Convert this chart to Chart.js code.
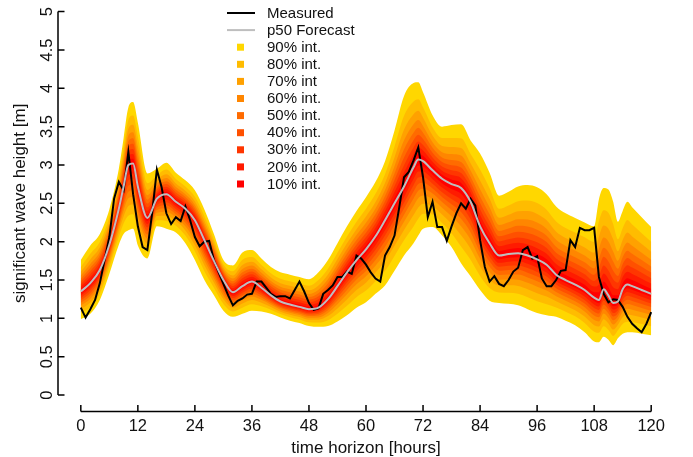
<!DOCTYPE html>
<html>
<head>
<meta charset="utf-8">
<script src="https://cdn.jsdelivr.net/npm/chart.js@4.4.1/dist/chart.umd.min.js"></script>
<style>
  html, body { margin: 0; padding: 0; background: #fff; }
  #wrap { width: 693px; height: 457px; }
</style>
</head>
<body>
<div id="wrap"><canvas id="waveChart" width="693" height="457"></canvas></div>
<script>
const xTicks = [0, 12, 24, 36, 48, 60, 72, 84, 96, 108, 120];
const yTicks = [0, 0.5, 1, 1.5, 2, 2.5, 3, 3.5, 4, 4.5, 5];

// measured wave height, one value per hour from 0 to 120
const measured = [
  1.14, 1.01, 1.12, 1.24, 1.46, 1.76, 2.06, 2.56, 2.78, 2.67,
  3.17, 2.62, 2.2, 1.93, 1.89, 2.37, 2.94, 2.71, 2.37, 2.23,
  2.32, 2.27, 2.46, 2.28, 2.06, 1.94, 2.0, 2.01, 1.76, 1.6,
  1.45, 1.3, 1.17, 1.23, 1.26, 1.31, 1.32, 1.48, 1.48, 1.4,
  1.32, 1.28, 1.29, 1.29, 1.26, 1.37, 1.48, 1.35, 1.2, 1.11,
  1.13, 1.32, 1.37, 1.43, 1.54, 1.54, 1.61, 1.58, 1.82, 1.78,
  1.7, 1.6, 1.52, 1.48, 1.82, 1.93, 2.08, 2.45, 2.84, 2.91,
  3.06, 3.23, 2.84, 2.32, 2.52, 2.19, 2.19, 2.01, 2.2, 2.37,
  2.5, 2.43, 2.56, 2.47, 2.02, 1.67, 1.48, 1.55, 1.45, 1.42,
  1.5, 1.61, 1.66, 1.89, 1.93, 1.78, 1.81, 1.52, 1.42, 1.42,
  1.5, 1.62, 1.63, 2.02, 1.93, 2.18, 2.15, 2.15, 2.18, 1.54,
  1.32, 1.21, 1.25, 1.24, 1.15, 1.02, 0.93, 0.87, 0.82, 0.93, 1.08
];

const forecastHours = [
  0, 2, 4, 6, 8, 9, 10, 11, 12, 14, 16, 18, 20, 22, 24, 26, 28, 30, 32, 34,
  36, 38, 40, 42, 44, 46, 48, 50, 52, 54, 56, 58, 60, 62, 64, 66, 68, 70, 71, 72,
  74, 76, 78, 80, 82, 84, 86, 88, 90, 92, 94, 96, 98, 100, 102, 104, 106, 108,
  109, 110, 111, 112, 113, 114, 115, 116, 118, 120
];
const p50 = [
  1.35, 1.46, 1.63, 1.96, 2.43, 2.72, 3.0, 3.02, 2.72, 2.31, 2.56, 2.62, 2.52, 2.43, 2.28, 2.02, 1.75, 1.5, 1.34, 1.42,
  1.48, 1.4, 1.3, 1.22, 1.18, 1.15, 1.12, 1.14, 1.25, 1.42, 1.6, 1.76, 1.9, 2.07, 2.28, 2.5, 2.72, 2.97, 3.07, 3.05,
  2.93, 2.82, 2.75, 2.7, 2.52, 2.2, 1.98, 1.82, 1.84, 1.85, 1.82, 1.77, 1.7, 1.57, 1.5, 1.44, 1.37, 1.27,
  1.24, 1.38, 1.3, 1.2, 1.22, 1.38, 1.44, 1.42, 1.37, 1.32
];
const upper90 = [
  1.76, 1.95, 2.1, 2.42, 2.95, 3.35, 3.75, 3.82, 3.55, 2.89, 2.95, 3.03, 2.9, 2.8, 2.67, 2.42, 2.1, 1.76, 1.69, 1.86,
  1.89, 1.78, 1.67, 1.6, 1.57, 1.54, 1.51, 1.6, 1.76, 1.98, 2.2, 2.4, 2.58, 2.78, 3.05, 3.45, 3.9, 4.07, 4.08, 3.95,
  3.65, 3.5, 3.52, 3.53, 3.32, 3.15, 2.9, 2.6, 2.65, 2.72, 2.74, 2.71, 2.62, 2.46, 2.37, 2.31, 2.25, 2.2,
  2.55, 2.7, 2.68, 2.52, 2.26, 2.4, 2.52, 2.45, 2.32, 2.19
];
const lower90 = [
  0.99, 1.06, 1.24, 1.58, 1.96, 2.1, 2.15, 2.17, 1.95, 1.78, 2.2, 2.17, 2.12, 1.98, 1.76, 1.5, 1.3, 1.1, 1.02, 1.06,
  1.1, 1.09, 1.06, 1.01, 0.97, 0.94, 0.9, 0.89, 0.9, 0.96, 1.04, 1.14, 1.21, 1.32, 1.43, 1.62, 1.82, 1.98, 2.08, 2.17,
  2.19, 2.08, 1.93, 1.72, 1.55, 1.37, 1.23, 1.2, 1.19, 1.17, 1.12, 1.07, 1.04, 1.02, 0.97, 0.91, 0.82, 0.7,
  0.69, 0.76, 0.72, 0.65, 0.74, 0.8, 0.82, 0.82, 0.8, 0.78
];

// interval bands, outermost first; share = where each band edge sits between median and 90% edge
const bandNames = ["90% int.", "80% int.", "70% int", "60% int.", "50% int.", "40% int.", "30% int.", "20% int.", "10% int."];
const bandColors = ["#FFD700", "#FFBC00", "#FFA100", "#FF8600", "#FF6B00", "#FF5000", "#FF3600", "#FF1B00", "#FF0000"];
const bandShares = [1, 0.78, 0.63, 0.51, 0.41, 0.32, 0.235, 0.155, 0.077];

const FONT = "'Liberation Sans', Arial, Helvetica, sans-serif";

function points(hours, values) {
  return values.map((v, i) => ({ x: hours[i], y: v }));
}

const datasets = [
  { label: "p50 Forecast", data: points(forecastHours, p50), borderColor: "#BEBEBE", borderWidth: 2,
    pointRadius: 0, fill: false, cubicInterpolationMode: "monotone" },
  { label: "Measured", data: points(measured.map((v, i) => i), measured), borderColor: "#000", borderWidth: 2,
    pointRadius: 0, fill: false, tension: 0 }
];

// innermost band gets the lowest index so it is painted last
for (let k = bandShares.length - 1; k >= 0; k--) {
  const share = bandShares[k];
  const hi = p50.map((m, i) => m + share * (upper90[i] - m));
  const lo = p50.map((m, i) => m - share * (m - lower90[i]));
  datasets.push({ label: bandNames[k] + " hi", data: points(forecastHours, hi), borderWidth: 0,
    borderColor: "rgba(0,0,0,0)", backgroundColor: bandColors[k], pointRadius: 0,
    fill: "+1", cubicInterpolationMode: "monotone" });
  datasets.push({ label: bandNames[k] + " lo", data: points(forecastHours, lo), borderWidth: 0,
    borderColor: "rgba(0,0,0,0)", pointRadius: 0, fill: false, cubicInterpolationMode: "monotone" });
}

const rAxes = {
  id: "rAxes",
  afterDraw(chart) {
    const { ctx, scales: { x, y } } = chart;
    const axisY = y.bottom + 1;
    const axisX = x.left;
    ctx.save();
    ctx.strokeStyle = "#000";
    ctx.fillStyle = "#111";
    ctx.lineWidth = 1.5;

    // x axis
    ctx.beginPath();
    ctx.moveTo(x.getPixelForValue(xTicks[0]), axisY);
    ctx.lineTo(x.getPixelForValue(xTicks[xTicks.length - 1]), axisY);
    for (const t of xTicks) {
      const px = x.getPixelForValue(t);
      ctx.moveTo(px, axisY);
      ctx.lineTo(px, axisY - 6.5);
    }
    ctx.stroke();
    ctx.font = "16.5px " + FONT;
    ctx.textAlign = "center";
    ctx.textBaseline = "alphabetic";
    for (const t of xTicks) ctx.fillText(String(t), x.getPixelForValue(t), 431);
    ctx.font = "17px " + FONT;
    ctx.fillText("time horizon [hours]", (x.getPixelForValue(0) + x.getPixelForValue(120)) / 2, 453);

    // y axis
    ctx.beginPath();
    ctx.moveTo(axisX, y.getPixelForValue(yTicks[0]));
    ctx.lineTo(axisX, y.getPixelForValue(yTicks[yTicks.length - 1]));
    for (const t of yTicks) {
      const py = y.getPixelForValue(t);
      ctx.moveTo(axisX, py);
      ctx.lineTo(axisX + 6.5, py);
    }
    ctx.stroke();
    ctx.font = "16.5px " + FONT;
    for (const t of yTicks) {
      ctx.save();
      ctx.translate(52, y.getPixelForValue(t));
      ctx.rotate(-Math.PI / 2);
      ctx.fillText(String(t), 0, 0);
      ctx.restore();
    }
    ctx.save();
    ctx.font = "17px " + FONT;
    ctx.translate(25, (y.getPixelForValue(0) + y.getPixelForValue(5)) / 2);
    ctx.rotate(-Math.PI / 2);
    ctx.fillText("significant wave height [m]", 0, 0);
    ctx.restore();

    // legend
    const rowY = i => 13 + 17.1 * i;
    ctx.font = "15px " + FONT;
    ctx.textAlign = "left";
    ctx.textBaseline = "middle";
    const lineRows = [["Measured", "#000"], ["p50 Forecast", "#BEBEBE"]];
    lineRows.forEach(([name, color], i) => {
      ctx.strokeStyle = color;
      ctx.lineWidth = 2;
      ctx.beginPath();
      ctx.moveTo(227, rowY(i));
      ctx.lineTo(255, rowY(i));
      ctx.stroke();
      ctx.fillStyle = "#111";
      ctx.fillText(name, 267, rowY(i) + 0.5);
    });
    bandNames.forEach((name, k) => {
      const yy = rowY(k + 2);
      ctx.fillStyle = bandColors[k];
      ctx.fillRect(237, yy - 3.5, 7, 7);
      ctx.fillStyle = "#111";
      ctx.fillText(name, 267, yy + 0.5);
    });
    ctx.restore();
  }
};

new Chart(document.getElementById("waveChart"), {
  type: "line",
  data: { datasets },
  options: {
    responsive: false,
    animation: false,
    devicePixelRatio: 1,
    layout: { padding: { left: 58, right: 19, top: 11.6, bottom: 46.6 } },
    plugins: { legend: { display: false }, tooltip: { enabled: false } },
    scales: {
      x: { type: "linear", display: false, min: -4.8, max: 124.8 },
      y: { type: "linear", display: false, min: -0.2, max: 5 }
    }
  },
  plugins: [rAxes]
});
</script>
</body>
</html>
